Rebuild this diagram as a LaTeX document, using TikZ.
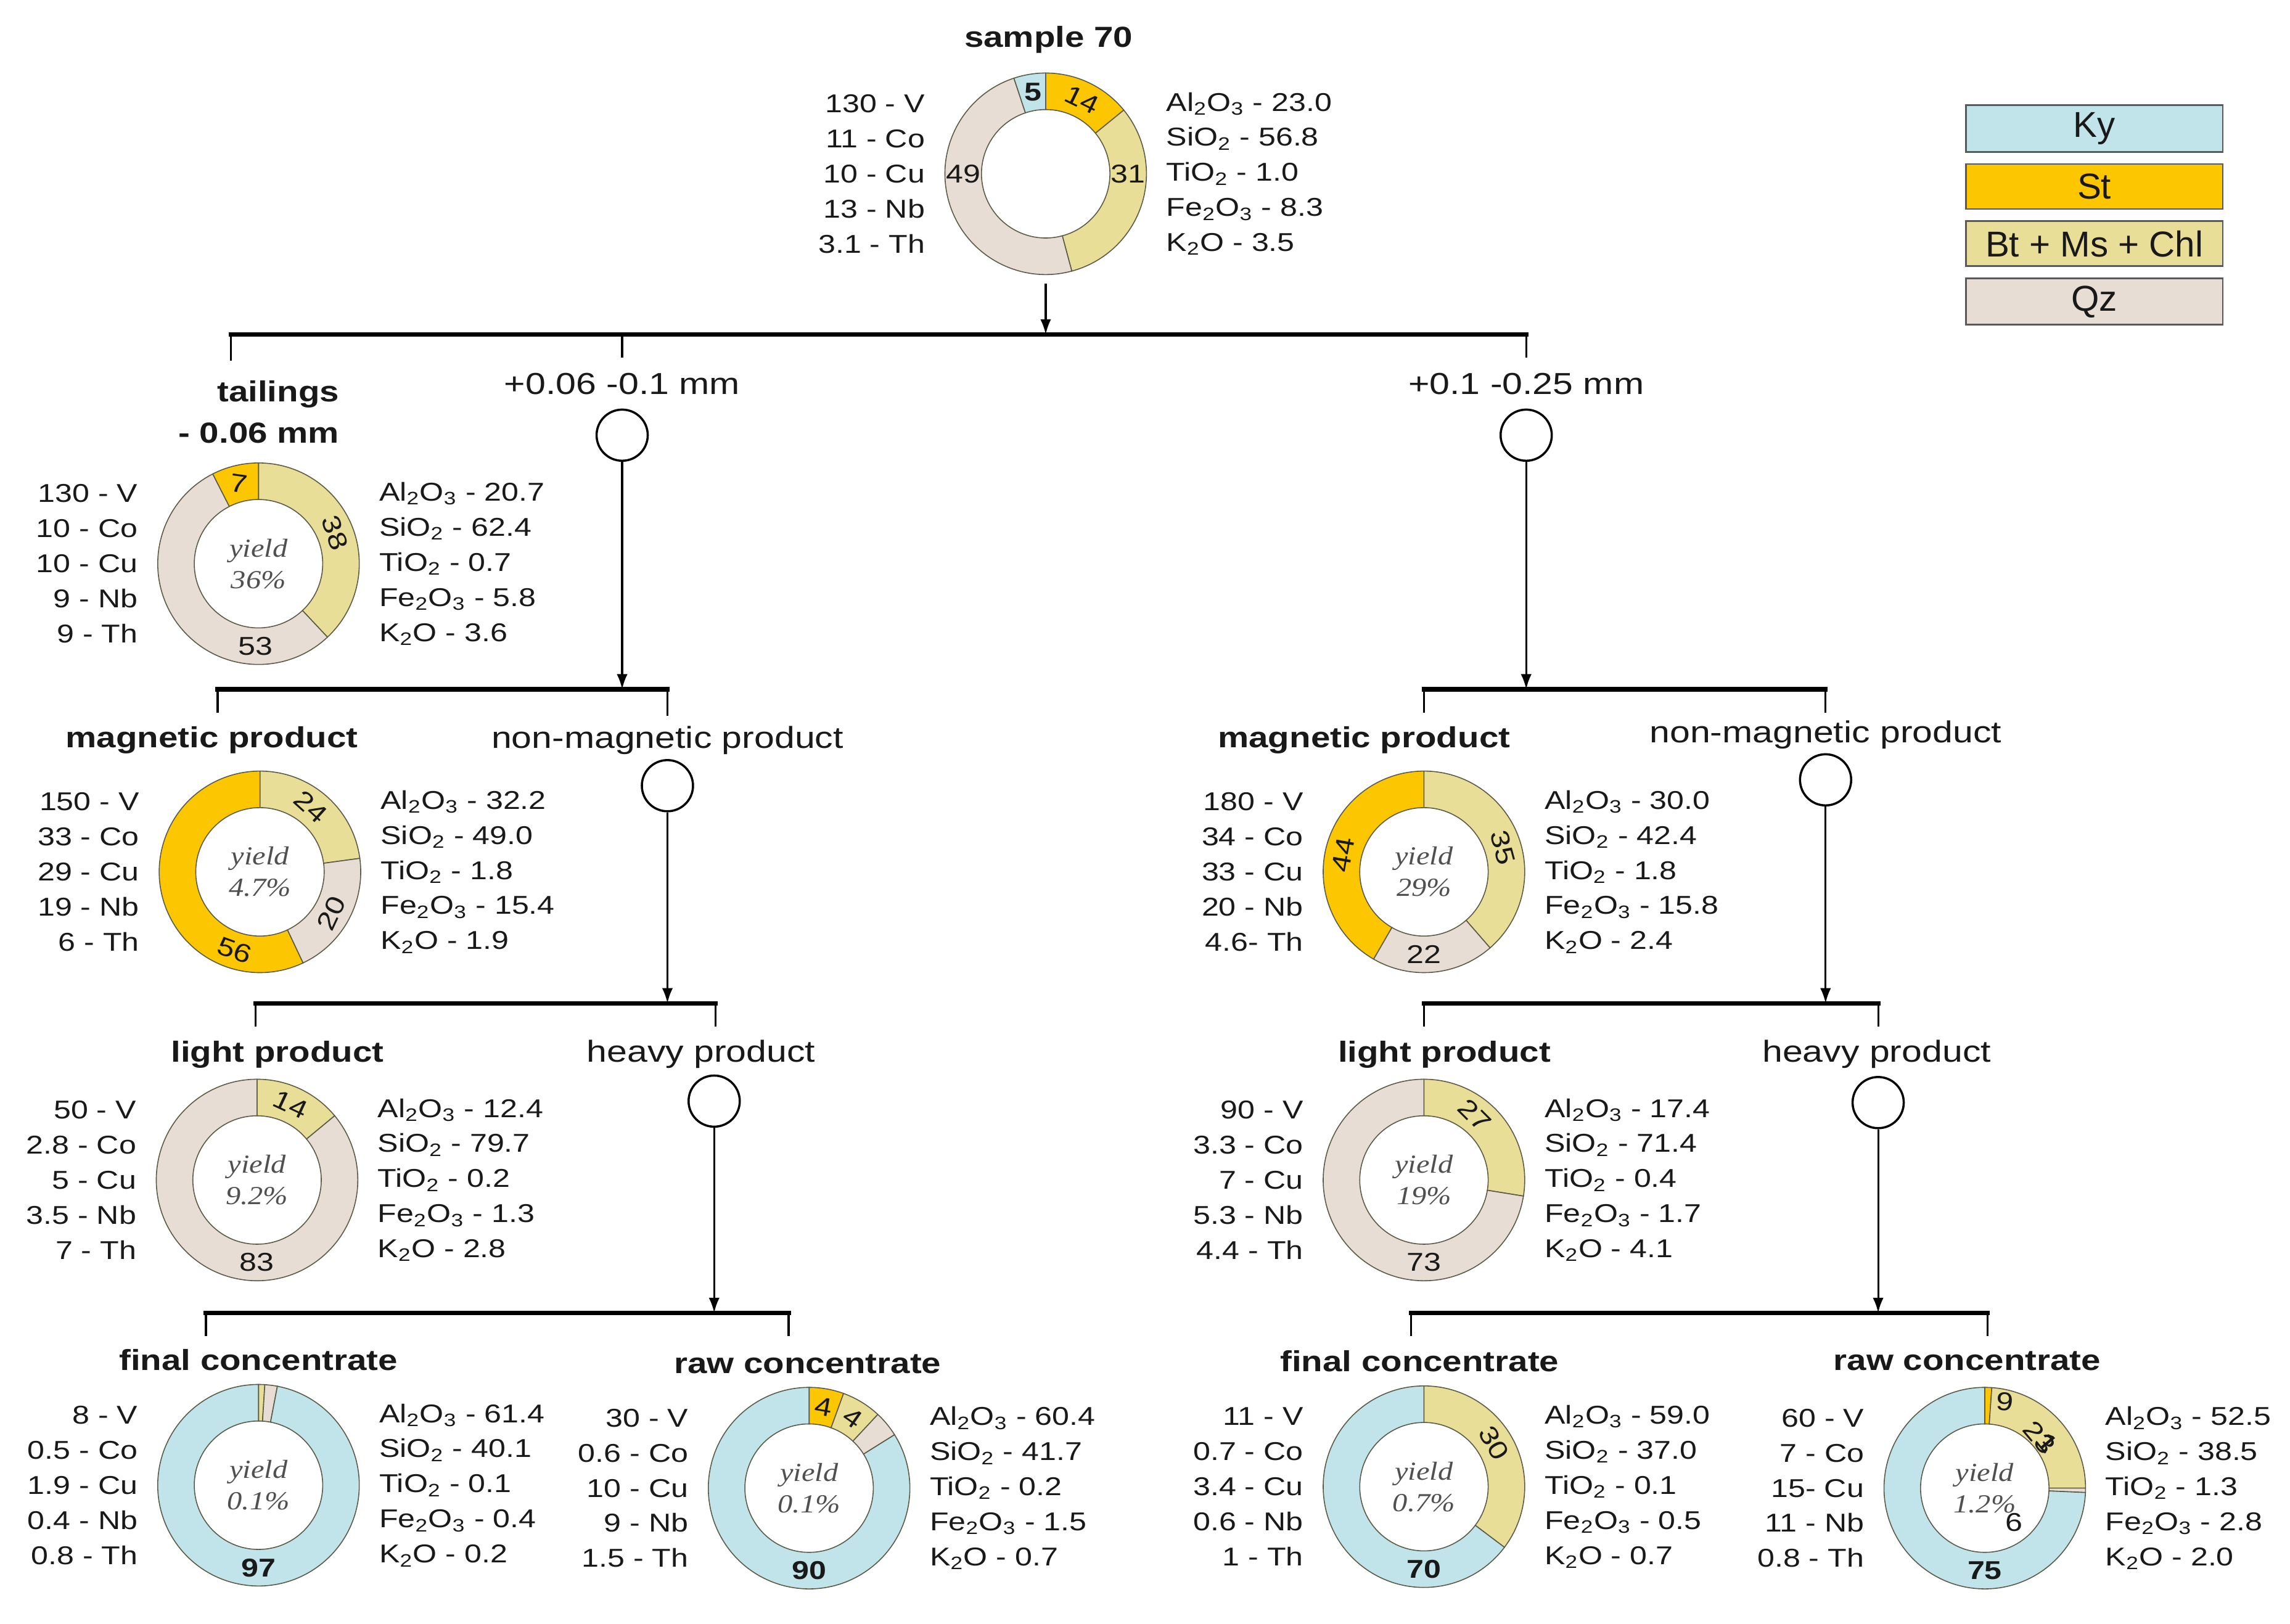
\documentclass[tikz,border=0pt]{standalone}
\usepackage{fontspec}
\setmainfont[FakeStretch=1.2]{Liberation Sans}
\newfontfamily\legendfont{Liberation Sans}
\newfontfamily\yieldfont[FakeStretch=1.15]{Liberation Serif}
\usepackage{tikz}
\usetikzlibrary{shapes,arrows,arrows.meta,calc,positioning}

\definecolor{ky}{RGB}{192,228,233}
\definecolor{st}{RGB}{252,198,0}
\definecolor{bt}{RGB}{233,222,152}
\definecolor{qz}{RGB}{231,221,212}
\definecolor{ringline}{RGB}{90,90,70}
\definecolor{txt}{RGB}{25,25,25}
\definecolor{yieldc}{RGB}{80,80,80}

\tikzstyle{line} = [draw, -{Latex[length=7pt, width=5pt]}, line width=0.9pt]
\tikzstyle{bar} = [draw, line width=2pt, line cap=rect]
\tikzstyle{drop} = [draw, line width=0.9pt]
\tikzstyle{ring} = [circle, minimum size=3.27cm, inner sep=0pt]
\tikzstyle{sieve} = [draw, circle, minimum size=0.83cm, inner sep=0pt, line width=1pt]
\tikzstyle{title} = [font=\bfseries\fontsize{13.4}{19}\selectfont, text=txt, inner sep=1pt]
\tikzstyle{stage} = [font=\fontsize{14}{15}\selectfont, text=txt, inner sep=1pt]
\tikzstyle{chem} = [font=\fontsize{11.9}{16.2}\selectfont, text=txt, inner sep=0pt, align=right]
\tikzstyle{seglabel} = [font=\fontsize{11.9}{13}\selectfont, text=txt, inner sep=0pt]
\tikzstyle{segbold} = [font=\bfseries\fontsize{11.9}{13}\selectfont]
\tikzstyle{yieldtxt} = [font=\yieldfont\itshape\fontsize{12}{14.5}\selectfont, text=yieldc, align=center]
\tikzstyle{legbox} = [draw=black!65, rectangle, line width=0.8pt, minimum width=4.17cm, minimum height=0.73cm, font=\legendfont\fontsize{16.6}{18}\selectfont, text=txt]

\newcommand{\rout}{1.635cm}
\newcommand{\rin}{1.042cm}
\newcommand{\rmid}{1.338cm}
\newcommand{\sub}[1]{\textsubscript{#1}}
% donut: centre node, list of start/end/colour (clockwise from 12 o'clock)
\newcommand{\ring}[2]{%
  \foreach \sa/\sb/\col in {#2}{%
    \filldraw[fill=\col, draw=ringline, line width=0.45pt]
      ($(#1)+(\sa:\rout)$) arc[start angle=\sa, end angle=\sb, radius=\rout]
      -- ($(#1)+(\sb:\rin)$) arc[start angle=\sb, end angle=\sa, radius=\rin] -- cycle;
  }%
}
% segment value: [style] centre, angle, rotation, value
\newcommand{\seg}[5][]{\node[seglabel, rotate=#4, #1] (#2-#5) at ($(#2)+(#3:\rmid)$) {#5};}

\begin{document}
\begin{tikzpicture}[x=0.02369cm, y=0.02369cm, node distance=0.31cm]
    \useasboundingbox (0,0) rectangle (1568,-1112);

    % legend
    \node[legbox, fill=ky] (lky) at (1434,-88) {Ky};
    \node[legbox, fill=st, below=0.17cm of lky] (lst) {St};
    \node[legbox, fill=bt, below=0.17cm of lst] (lbt) {Bt + Ms + Chl};
    \node[legbox, fill=qz, below=0.17cm of lbt] (lqz) {Qz};

    % donuts
    \node[ring] (top) at (716,-119) {};
    \node[ring] (tail) at (177,-386) {};
    \node[ring] (magL) at (178,-597) {};
    \node[ring] (ligL) at (176,-808) {};
    \node[ring] (finL) at (177,-1017) {};
    \node[ring] (rawL) at (554,-1019) {};
    \node[ring] (magR) at (975,-597) {};
    \node[ring] (ligR) at (975,-808) {};
    \node[ring] (finR) at (975,-1018) {};
    \node[ring] (rawR) at (1359,-1019) {};

    \ring{top}{90/39.2/st, 39.2/-75/bt, -75/-251.6/qz, -251.6/-270/ky}
    \ring{tail}{90/-46.8/bt, -46.8/-243/qz, -243/-270/st}
    \ring{magL}{90/7.7/bt, 7.7/-64.7/qz, -64.7/-270/st}
    \ring{ligL}{90/39.6/bt, 39.6/-270/qz}
    \ring{finL}{90/86.4/bt, 86.4/79.2/qz, 79.2/-270/ky}
    \ring{rawL}{90/70/st, 70/47/bt, 47/32/qz, 32/-270/ky}
    \ring{magR}{90/-49/bt, -49/-120/qz, -120/-270/st}
    \ring{ligR}{90/-9.2/bt, -9.2/-270/qz}
    \ring{finR}{90/-37/bt, -37/-270/ky}
    \ring{rawR}{90/86/st, 86/0/bt, 0/-2.5/qz, -2.5/-270/ky}

    \seg[segbold]{top}{99}{0}{5} \seg{top}{64}{-26}{14} \seg{top}{0}{0}{31} \seg{top}{180}{0}{49}
    \seg{tail}{104}{-8}{7} \seg{tail}{22}{-70}{38} \seg{tail}{-92}{0}{53}
    \seg{magL}{52}{-42}{24} \seg{magL}{-30}{65}{20} \seg{magL}{-108}{-20}{56}
    \seg{ligL}{66}{-25}{14} \seg{ligL}{-90}{0}{83}
    \seg[segbold]{finL}{-90}{0}{97}
    \seg{rawL}{80}{-10}{4} \seg{rawL}{58}{-35}{4} \seg[segbold]{rawL}{-90}{0}{90}
    \seg{magR}{17}{-75}{35} \seg{magR}{-90}{0}{22} \seg{magR}{168}{80}{44}
    \seg{ligR}{52}{-45}{27} \seg{ligR}{-90}{0}{73}
    \seg{finR}{32}{-60}{30} \seg[segbold]{finR}{-90}{0}{70}
    \node[seglabel, rotate=-5] (rawR-9) at ($(rawR)+(77:1.445cm)$) {9};
    \node[seglabel, rotate=-50] (rawR-23) at ($(rawR)+(43:1.21cm)$) {23};
    \node[seglabel, rotate=-50] (rawR-1) at ($(rawR)+(36:1.26cm)$) {1};
    \node[seglabel] (rawR-6) at ($(rawR)+(-49:0.73cm)$) {6};
    \seg[segbold]{rawR}{-90}{0}{75}

    % yields
    \node[yieldtxt] (tailY) at (tail) {yield\\36\%};
    \node[yieldtxt] (magLY) at (magL) {yield\\4.7\%};
    \node[yieldtxt] (ligLY) at (ligL) {yield\\9.2\%};
    \node[yieldtxt] (finLY) at (finL) {yield\\0.1\%};
    \node[yieldtxt] (rawLY) at (rawL) {yield\\0.1\%};
    \node[yieldtxt] (magRY) at (magR) {yield\\29\%};
    \node[yieldtxt] (ligRY) at (ligR) {yield\\19\%};
    \node[yieldtxt] (finRY) at (finR) {yield\\0.7\%};
    \node[yieldtxt] (rawRY) at (rawR) {yield\\1.2\%};

    % trace elements and oxides
    \node[chem, left=of top] (topM) {130 - V\\11 - Co\\10 - Cu\\13 - Nb\\3.1 - Th};
    \node[chem, right=of top, align=left] (topO) {Al\sub{2}O\sub{3} - 23.0\\SiO\sub{2} - 56.8\\TiO\sub{2} - 1.0\\Fe\sub{2}O\sub{3} - 8.3\\K\sub{2}O - 3.5};
    \node[chem, left=of tail] (tailM) {130 - V\\10 - Co\\10 - Cu\\9 - Nb\\9 - Th};
    \node[chem, right=of tail, align=left] (tailO) {Al\sub{2}O\sub{3} - 20.7\\SiO\sub{2} - 62.4\\TiO\sub{2} - 0.7\\Fe\sub{2}O\sub{3} - 5.8\\K\sub{2}O - 3.6};
    \node[chem, left=of magL] (magLM) {150 - V\\33 - Co\\29 - Cu\\19 - Nb\\6 - Th};
    \node[chem, right=of magL, align=left] (magLO) {Al\sub{2}O\sub{3} - 32.2\\SiO\sub{2} - 49.0\\TiO\sub{2} - 1.8\\Fe\sub{2}O\sub{3} - 15.4\\K\sub{2}O - 1.9};
    \node[chem, left=of ligL] (ligLM) {50 - V\\2.8 - Co\\5 - Cu\\3.5 - Nb\\7 - Th};
    \node[chem, right=of ligL, align=left] (ligLO) {Al\sub{2}O\sub{3} - 12.4\\SiO\sub{2} - 79.7\\TiO\sub{2} - 0.2\\Fe\sub{2}O\sub{3} - 1.3\\K\sub{2}O - 2.8};
    \node[chem, left=of finL] (finLM) {8 - V\\0.5 - Co\\1.9 - Cu\\0.4 - Nb\\0.8 - Th};
    \node[chem, right=of finL, align=left] (finLO) {Al\sub{2}O\sub{3} - 61.4\\SiO\sub{2} - 40.1\\TiO\sub{2} - 0.1\\Fe\sub{2}O\sub{3} - 0.4\\K\sub{2}O - 0.2};
    \node[chem, left=of rawL] (rawLM) {30 - V\\0.6 - Co\\10 - Cu\\9 - Nb\\1.5 - Th};
    \node[chem, right=of rawL, align=left] (rawLO) {Al\sub{2}O\sub{3} - 60.4\\SiO\sub{2} - 41.7\\TiO\sub{2} - 0.2\\Fe\sub{2}O\sub{3} - 1.5\\K\sub{2}O - 0.7};
    \node[chem, left=of magR] (magRM) {180 - V\\34 - Co\\33 - Cu\\20 - Nb\\4.6- Th};
    \node[chem, right=of magR, align=left] (magRO) {Al\sub{2}O\sub{3} - 30.0\\SiO\sub{2} - 42.4\\TiO\sub{2} - 1.8\\Fe\sub{2}O\sub{3} - 15.8\\K\sub{2}O - 2.4};
    \node[chem, left=of ligR] (ligRM) {90 - V\\3.3 - Co\\7 - Cu\\5.3 - Nb\\4.4 - Th};
    \node[chem, right=of ligR, align=left] (ligRO) {Al\sub{2}O\sub{3} - 17.4\\SiO\sub{2} - 71.4\\TiO\sub{2} - 0.4\\Fe\sub{2}O\sub{3} - 1.7\\K\sub{2}O - 4.1};
    \node[chem, left=of finR] (finRM) {11 - V\\0.7 - Co\\3.4 - Cu\\0.6 - Nb\\1 - Th};
    \node[chem, right=of finR, align=left] (finRO) {Al\sub{2}O\sub{3} - 59.0\\SiO\sub{2} - 37.0\\TiO\sub{2} - 0.1\\Fe\sub{2}O\sub{3} - 0.5\\K\sub{2}O - 0.7};
    \node[chem, left=of rawR] (rawRM) {60 - V\\7 - Co\\15- Cu\\11 - Nb\\0.8 - Th};
    \node[chem, right=of rawR, align=left] (rawRO) {Al\sub{2}O\sub{3} - 52.5\\SiO\sub{2} - 38.5\\TiO\sub{2} - 1.3\\Fe\sub{2}O\sub{3} - 2.8\\K\sub{2}O - 2.0};

    % titles
    \node[title] (sample) at (718,-27) {sample 70};
    \node[title, align=right, anchor=east] (tailT) at (234,-282) {tailings\\- 0.06 mm};
    \node[title] (magLT) at (145,-507) {magnetic product};
    \node[title] (ligLT) at (190,-722) {light product};
    \node[title] (finLT) at (177,-931) {final concentrate};
    \node[title] (rawLT) at (553,-934) {raw concentrate};
    \node[title] (magRT) at (934,-507) {magnetic product};
    \node[title] (ligRT) at (989,-722) {light product};
    \node[title] (finRT) at (972,-932) {final concentrate};
    \node[title] (rawRT) at (1347,-932) {raw concentrate};
    \node[stage] (fineT) at (426,-263) {+0.06 -0.1 mm};
    \node[stage] (coarseT) at (1045,-263) {+0.1 -0.25 mm};
    \node[stage] (nonLT) at (457,-507) {non-magnetic product};
    \node[stage] (nonRT) at (1250,-503) {non-magnetic product};
    \node[stage] (hvyLT) at (480,-722) {heavy product};
    \node[stage] (hvyRT) at (1285,-722) {heavy product};

    % separation steps
    \node[sieve] (s1) at (426,-298) {};
    \node[sieve] (s2) at (1045,-298) {};
    \node[sieve] (s3) at (457,-538) {};
    \node[sieve] (s4) at (1250,-534) {};
    \node[sieve] (s5) at (489,-754) {};
    \node[sieve] (s6) at (1286,-755) {};

    % split points
    \coordinate (b1) at (716,-229);   \coordinate (b1w) at (158,-229);  \coordinate (b1e) at (1045,-229);
    \coordinate (b1m) at (426,-229);
    \coordinate (d1w) at (158,-247);  \coordinate (d1m) at (426,-245);  \coordinate (d1e) at (1045,-245);
    \coordinate (b2) at (426,-472);   \coordinate (b2w) at (149,-472);  \coordinate (b2e) at (457,-472);
    \coordinate (d2w) at (149,-488);  \coordinate (d2e) at (457,-490);
    \coordinate (b3) at (1045,-472);  \coordinate (b3w) at (975,-472);  \coordinate (b3e) at (1250,-472);
    \coordinate (d3w) at (975,-488);  \coordinate (d3e) at (1250,-488);
    \coordinate (b4) at (457,-687);   \coordinate (b4w) at (175,-687);  \coordinate (b4e) at (490,-687);
    \coordinate (d4w) at (175,-703);  \coordinate (d4e) at (490,-703);
    \coordinate (b5) at (1250,-687);  \coordinate (b5w) at (975,-687);  \coordinate (b5e) at (1286,-687);
    \coordinate (d5w) at (975,-703);  \coordinate (d5e) at (1286,-703);
    \coordinate (b6) at (489,-899);   \coordinate (b6w) at (141,-899);  \coordinate (b6e) at (540,-899);
    \coordinate (d6w) at (141,-915);  \coordinate (d6e) at (540,-915);
    \coordinate (b7) at (1286,-899);  \coordinate (b7w) at (966,-899);  \coordinate (b7e) at (1361,-899);
    \coordinate (d7w) at (966,-915);  \coordinate (d7e) at (1361,-915);

    \path[line, shorten <=4pt] (top) -- (b1);
    \path[line] (s1) -- (b2);
    \path[line] (s2) -- (b3);
    \path[line] (s3) -- (b4);
    \path[line] (s4) -- (b5);
    \path[line] (s5) -- (b6);
    \path[line] (s6) -- (b7);

    \draw[drop] (b1w) -- (d1w);  \draw[drop] (b1m) -- (d1m);  \draw[drop] (b1e) -- (d1e);
    \draw[drop] (b2w) -- (d2w);  \draw[drop] (b2e) -- (d2e);
    \draw[drop] (b3w) -- (d3w);  \draw[drop] (b3e) -- (d3e);
    \draw[drop] (b4w) -- (d4w);  \draw[drop] (b4e) -- (d4e);
    \draw[drop] (b5w) -- (d5w);  \draw[drop] (b5e) -- (d5e);
    \draw[drop] (b6w) -- (d6w);  \draw[drop] (b6e) -- (d6e);
    \draw[drop] (b7w) -- (d7w);  \draw[drop] (b7e) -- (d7e);

    \draw[bar] (b1w) -- (b1e);
    \draw[bar] (b2w) -- (b2e);
    \draw[bar] (b3w) -- (b3e);
    \draw[bar] (b4w) -- (b4e);
    \draw[bar] (b5w) -- (b5e);
    \draw[bar] (b6w) -- (b6e);
    \draw[bar] (b7w) -- (b7e);
\end{tikzpicture}
\end{document}
